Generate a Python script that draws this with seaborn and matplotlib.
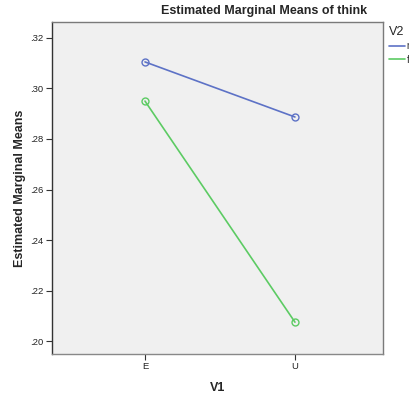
import numpy as np
import pandas as pd
import matplotlib
matplotlib.use("Agg")
import matplotlib.pyplot as plt
import seaborn as sns
from matplotlib.lines import Line2D
from matplotlib.ticker import FuncFormatter

# estimated marginal means
v1_levels = ["E", "U"]
v2_levels = ["m", "f"]
means_m = [0.3105, 0.2887]
means_f = [0.2950, 0.2075]
y_ticks = [0.20, 0.22, 0.24, 0.26, 0.28, 0.30, 0.32]

df = pd.DataFrame({
    "V1": v1_levels * 2,
    "V2": [v2_levels[0]] * 2 + [v2_levels[1]] * 2,
    "emm": means_m + means_f,
})

sns.set_theme(style="white")
plt.rcParams["font.family"] = ["Liberation Sans", "DejaVu Sans"]

colors = {"m": "#5d72c6", "f": "#5ccb63"}

fig = plt.figure(figsize=(4.10, 3.96), dpi=100)
ax = fig.add_axes([52 / 410, 42 / 396, 331 / 410, 332 / 396])
ax.set_facecolor("#f0f0f0")

sns.lineplot(data=df, x="V1", y="emm", hue="V2", hue_order=v2_levels,
             palette=colors, marker="o", markersize=5, linewidth=1.2,
             legend=False, ax=ax)
for line in ax.lines:
    line.set_markerfacecolor("none")
    line.set_markeredgecolor(line.get_color())
    line.set_markeredgewidth(1.0)

ax.set_xlim(-0.62, 1.587)
ax.set_ylim(0.1949, 0.3263)
ax.set_yticks(y_ticks)
ax.yaxis.set_major_formatter(FuncFormatter(lambda v, p: f"{v:.2f}".lstrip("0")))
ax.tick_params(axis="both", which="major", length=4, width=0.8, color="#333333",
               labelsize=6.8, labelcolor="#222222", direction="out",
               left=True, bottom=True, pad=2)
for s in ax.spines.values():
    s.set_color("#7a7a7a")
    s.set_linewidth(1.0)
ax.spines["left"].set_color("#333333")
ax.spines["bottom"].set_color("#888888")

ax.set_xlabel("V1", fontsize=9, fontweight="bold", labelpad=8)
ax.set_ylabel("Estimated Marginal Means", fontsize=9, fontweight="bold", labelpad=3)

fig.text(264 / 410, 1 - 11 / 396, "Estimated Marginal Means of think",
         ha="center", va="center", fontsize=9, fontweight="bold")

handles = [Line2D([0], [0], color=colors[k], lw=1.2) for k in v2_levels]
leg = fig.legend(handles, v2_levels, title="V2", loc="upper left",
                 bbox_to_anchor=(389 / 410, 1 - 26 / 396), frameon=False,
                 fontsize=7, title_fontsize=9, handlelength=1.6,
                 handletextpad=0.2, labelspacing=0.35, borderpad=0,
                 borderaxespad=0, alignment="left")

fig.savefig("out.png", dpi=100)
